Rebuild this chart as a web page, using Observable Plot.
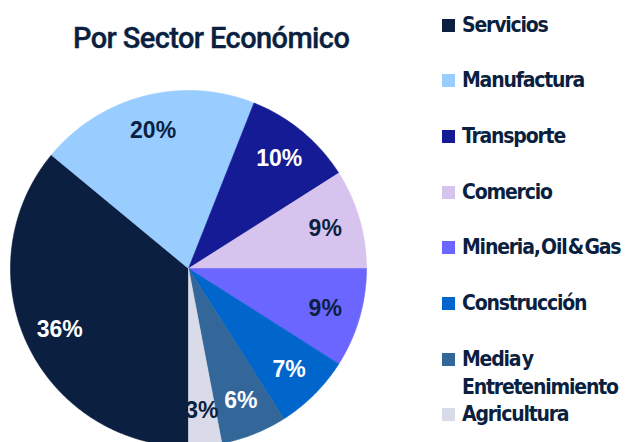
<!DOCTYPE html>
<html>
<head>
<meta charset="utf-8">
<script src="https://cdn.jsdelivr.net/npm/d3@7"></script>
<script src="https://cdn.jsdelivr.net/npm/@observablehq/plot@0.6"></script>
<style>
  body { margin: 0; background: #fff; }
  #wrap { position: relative; width: 626px; height: 442px; overflow: hidden; }
  #title { position: absolute; left: 73px; top: 21px; font-family: Roboto, "Liberation Sans", sans-serif; font-weight: 500; font-size: 29px; letter-spacing: -0.6px; color: #0b1f40; white-space: nowrap; -webkit-text-stroke: 0.4px #0b1f40; }
  .leg { position: absolute; left: 442px; font-family: "DejaVu Sans Condensed", "DejaVu Sans", sans-serif; font-stretch: condensed; font-weight: bold; font-size: 21px; letter-spacing: -1.2px; word-spacing: -4px; color: #0b1f40; line-height: 28px; }
  .leg .sw { position: absolute; left: 0; top: 8px; width: 13px; height: 13px; }
  .leg .tx { margin-left: 20px; white-space: nowrap; }
  #chart svg { position: absolute; left: 0; top: 0; }
</style>
</head>
<body>
<div id="wrap">
  <div id="chart"></div>
  <div id="title">Por Sector Económico</div>
  <div id="legend"></div>
</div>
<script>
const sectors = ["Servicios", "Manufactura", "Transporte", "Comercio", "Mineria, Oil & Gas", "Construcción", "Media y Entretenimiento", "Agricultura"];
const legendLabels = ["Servicios", "Manufactura", "Transporte", "Comercio", "Mineria, Oil &amp; Gas", "Construcción", "Media y<br>Entretenimiento", "Agricultura"];
const values = [36, 20, 10, 9, 9, 7, 6, 3];
const colors = ["#0b1f40", "#99ccff", "#151b94", "#d6c4ee", "#6b66ff", "#0066cc", "#336699", "#dadbe8"];

const data = sectors.map((s, i) => ({sector: s, value: values[i], color: colors[i]}));
const arcs = d3.pie().sort(null).value(d => d.value).startAngle(Math.PI).endAngle(3 * Math.PI)(data);

// polygon points for each slice
const pts = [];
arcs.forEach(a => {
  const s = a.data.sector;
  pts.push({sector: s, x: 0, y: 0});
  const n = Math.max(2, Math.ceil((a.endAngle - a.startAngle) / (Math.PI / 180)));
  for (let k = 0; k <= n; k++) {
    const t = a.startAngle + (a.endAngle - a.startAngle) * k / n;
    pts.push({sector: s, x: Math.sin(t), y: Math.cos(t)});
  }
  pts.push({sector: s, x: 0, y: 0});
});

const labels = arcs.map(a => {
  const m = (a.startAngle + a.endAngle) / 2;
  return {
    text: a.data.value + "%",
    x: 0.8 * Math.sin(m),
    y: 0.8 * Math.cos(m),
    dark: d3.hsl(a.data.color).l > 0.6
  };
});

const plot = Plot.plot({
  width: 626,
  height: 442,
  margin: 0,
  x: {domain: [-1, 1], range: [10, 366], axis: null},
  y: {domain: [-1, 1], range: [446, 90], axis: null},
  color: {domain: sectors, range: colors},
  marks: [
    Plot.line(pts, {x: "x", y: "y", z: "sector", fill: "sector", stroke: "sector", strokeWidth: 0.6, curve: "linear"}),
    Plot.text(labels, {x: "x", y: "y", text: "text", fill: d => d.dark ? "#0b1f40" : "#ffffff",
      fontFamily: "Liberation Sans, Arial, sans-serif", fontWeight: "bold", fontSize: 23})
  ]
});
document.getElementById("chart").appendChild(plot);

const tops = [11, 66, 122, 178, 233, 289, 345, 400];
const leg = document.getElementById("legend");
legendLabels.forEach((l, i) => {
  const d = document.createElement("div");
  d.className = "leg";
  d.style.top = tops[i] + "px";
  d.innerHTML = `<span class="sw" style="background:${colors[i]}"></span><div class="tx">${l}</div>`;
  leg.appendChild(d);
});
</script>
</body>
</html>
